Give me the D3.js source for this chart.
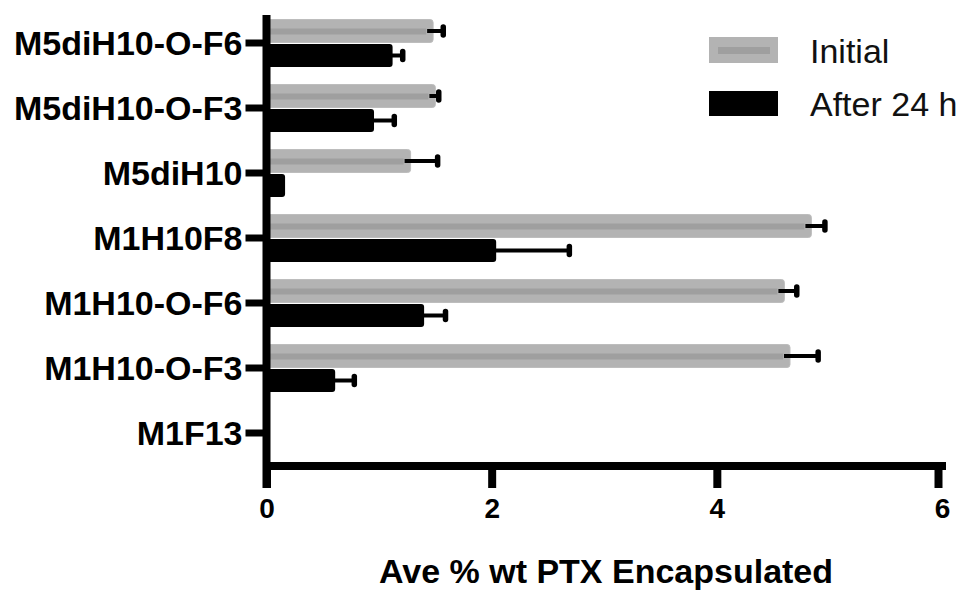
<!DOCTYPE html>
<html>
<head>
<meta charset="utf-8">
<script src="https://cdn.jsdelivr.net/npm/d3@7"></script>
<style>
	html, body { margin: 0; padding: 0; background: #fff; }
	svg { display: block; font-family: 'Liberation Sans', Arial, sans-serif; }
</style>
</head>
<body>
<div id="chart"></div>
<script>
'use strict';

var categories = ['M5diH10-O-F6', 'M5diH10-O-F3', 'M5diH10', 'M1H10F8', 'M1H10-O-F6', 'M1H10-O-F3', 'M1F13'];
var initialValues = [1.48, 1.50, 1.28, 4.84, 4.60, 4.65, 0];
var initialErrors = [0.09, 0.03, 0.24, 0.12, 0.11, 0.25, 0];
var afterValues = [1.12, 0.955, 0.165, 2.04, 1.40, 0.61, 0];
var afterErrors = [0.09, 0.18, 0, 0.65, 0.19, 0.17, 0];
var xTicks = [0, 2, 4, 6];
var seriesNames = ['Initial', 'After 24 h'];
var xTitle = 'Ave % wt PTX Encapsulated';

var width = 968, height = 593;

var svg = d3.select('#chart').append('svg')
	.attr('width', width)
	.attr('height', height);

var x = d3.scaleLinear().domain([0, 6]).range([266.5, 942]);
var y = d3.scaleBand().domain(categories).range([10.5, 465.5]);

var barH = 23;

var rows = categories.map(function(c, i) {
	return {
		cat: c,
		init: initialValues[i], initErr: initialErrors[i],
		after: afterValues[i], afterErr: afterErrors[i]
	};
});

var center = function(d) { return y(d.cat) + y.bandwidth() / 2; };

// initial bars (grey with darker stripe)
var bars = svg.append('g');

bars.selectAll('rect.init')
	.data(rows.filter(function(d) { return d.init > 0; }))
	.enter().append('rect')
	.attr('class', 'init')
	.attr('x', x(0))
	.attr('y', function(d) { return center(d) - barH - 0.5; })
	.attr('width', function(d) { return x(d.init) - x(0); })
	.attr('height', barH)
	.attr('rx', 3)
	.style('fill', '#b3b3b3')
	.style('stroke', '#bdbdbd')
	.style('stroke-width', 1);

bars.selectAll('rect.stripe')
	.data(rows.filter(function(d) { return d.init > 0; }))
	.enter().append('rect')
	.attr('class', 'stripe')
	.attr('x', x(0))
	.attr('y', function(d) { return center(d) - barH + 8.5; })
	.attr('width', function(d) { return Math.max(0, x(d.init) - x(0) - 7); })
	.attr('height', 6)
	.style('fill', '#9f9f9f');

bars.selectAll('rect.after')
	.data(rows.filter(function(d) { return d.after > 0; }))
	.enter().append('rect')
	.attr('class', 'after')
	.attr('x', x(0))
	.attr('y', function(d) { return center(d) + 1; })
	.attr('width', function(d) { return x(d.after) - x(0); })
	.attr('height', barH)
	.attr('rx', 3)
	.style('fill', '#000');

// error bars
var drawErrors = function(data, valKey, errKey, offset) {
	var g = svg.append('g');
	var list = data.filter(function(d) { return d[errKey] > 0; });
	g.selectAll('line.err')
		.data(list)
		.enter().append('line')
		.attr('x1', function(d) { return x(d[valKey]) - 6; })
		.attr('x2', function(d) { return x(d[valKey] + d[errKey]); })
		.attr('y1', function(d) { return center(d) + offset; })
		.attr('y2', function(d) { return center(d) + offset; })
		.style('stroke', '#000')
		.style('stroke-width', 4);
	g.selectAll('line.cap')
		.data(list)
		.enter().append('line')
		.attr('x1', function(d) { return x(d[valKey] + d[errKey]); })
		.attr('x2', function(d) { return x(d[valKey] + d[errKey]); })
		.attr('y1', function(d) { return center(d) + offset - 4; })
		.attr('y2', function(d) { return center(d) + offset + 4; })
		.style('stroke', '#000')
		.style('stroke-width', 5.5)
		.style('stroke-linecap', 'round');
};

drawErrors(rows, 'init', 'initErr', -barH / 2 - 0.5);
drawErrors(rows, 'after', 'afterErr', barH / 2 + 1);

// y axis
var yAxis = svg.append('g')
	.attr('transform', 'translate(' + x(0) + ',0)')
	.call(d3.axisLeft(y).tickSize(21).tickSizeOuter(0).tickPadding(3));

yAxis.select('.domain').remove();
yAxis.selectAll('.tick line')
	.style('stroke', '#000')
	.style('stroke-width', 7);
yAxis.selectAll('.tick text')
	.style('font-size', '34px')
	.style('font-weight', 'bold')
	.style('fill', '#000')
	.attr('dy', '0.36em');

// x axis
var xAxis = svg.append('g')
	.attr('transform', 'translate(0,466)')
	.call(d3.axisBottom(x).tickValues(xTicks).tickFormat(d3.format('d')).tickSize(22).tickSizeOuter(0).tickPadding(10));

xAxis.select('.domain').remove();
xAxis.selectAll('.tick line')
	.style('stroke', '#000')
	.style('stroke-width', 8)
	.attr('transform', function(d) { return d === 6 ? 'translate(-4,0)' : null; });
xAxis.selectAll('.tick text')
	.style('font-size', '28px')
	.style('font-weight', 'bold')
	.style('fill', '#000');

// axis lines
svg.append('line')
	.attr('x1', x(0)).attr('x2', x(0))
	.attr('y1', 15).attr('y2', 488)
	.style('stroke', '#000')
	.style('stroke-width', 8);

svg.append('line')
	.attr('x1', x(0)).attr('x2', x(6) + 4)
	.attr('y1', 466).attr('y2', 466)
	.style('stroke', '#000')
	.style('stroke-width', 8);

// x title
svg.append('text')
	.attr('x', 606)
	.attr('y', 583)
	.attr('text-anchor', 'middle')
	.style('font-size', '34px')
	.style('font-weight', 'bold')
	.style('fill', '#000')
	.text(xTitle);

// legend
var legend = svg.append('g').attr('transform', 'translate(709,37)');

legend.append('rect')
	.attr('width', 69).attr('height', 26)
	.style('fill', '#b3b3b3');
legend.append('rect')
	.attr('x', 9).attr('y', 10)
	.attr('width', 52).attr('height', 7)
	.style('fill', '#9f9f9f');
legend.append('rect')
	.attr('y', 54)
	.attr('width', 69).attr('height', 25)
	.style('fill', '#000');

legend.selectAll('text')
	.data(seriesNames)
	.enter().append('text')
	.attr('x', 101)
	.attr('y', function(d, i) { return 26 + i * 53; })
	.style('font-size', '34px')
	.style('fill', '#111')
	.text(function(d) { return d; });
</script>
</body>
</html>
